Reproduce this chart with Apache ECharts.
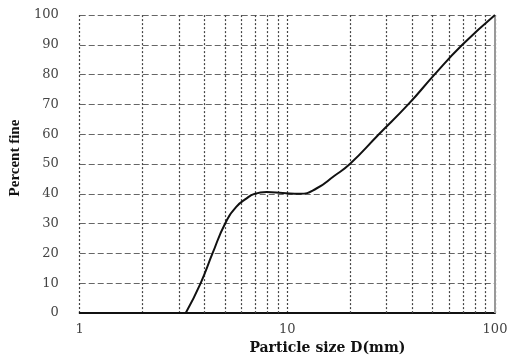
<!DOCTYPE html>
<html><head><meta charset="utf-8">
<script src="https://cdn.jsdelivr.net/npm/echarts@6/dist/echarts.min.js"></script>
<style>html,body{margin:0;padding:0;background:#fff}#c{width:513px;height:360px}</style>
</head><body><div id="c"></div>
<script>
// Flat part of the grading curve (no material finer than ~3.24 mm)
const flatSizes   = [1, 3.24];
const flatPercent = [0, 0];
// Rising part of the grading curve: particle size (mm) and percent fine
const sizes   = [3.24, 3.82, 4.36, 5.01, 5.69, 6.34, 6.94, 7.95, 9.5, 11.5, 13.8, 16.8, 20, 27.6, 38.2, 51.1, 69.6, 100];
const percent = [0,    10,   20,   30,   35.7, 38.4, 40,   40.6, 40.3, 40.0, 41.8, 46.0, 50, 60,   70,   80,   90,   100];
const minorGrid = [2, 3, 4, 5, 6, 7, 8, 9, 20, 30, 40, 50, 60, 70, 80, 90];
const xTicks = [1, 10, 100];
const yTicks = [0, 10, 20, 30, 40, 50, 60, 70, 80, 90, 100];

const chart = echarts.init(document.getElementById('c'));
const serif = '"DejaVu Serif", "Liberation Serif", serif';
chart.setOption({
  animation: false,
  grid: {left: 72, right: 18, top: 15, bottom: 38},
  xAxis: {
    type: 'log', logBase: 10, min: xTicks[0], max: xTicks[xTicks.length-1],
    name: 'Particle size D(mm)', nameLocation: 'middle', nameGap: 23,
    nameTextStyle: {fontFamily: '"DejaVu Serif", serif', fontWeight: 'bold', fontSize: 14, color: '#111', padding: [0,0,0,80]},
    axisLine: {show: true, lineStyle: {color: '#111', width: 2}},
    axisTick: {show: false},
    axisLabel: {fontFamily: serif, fontSize: 13, color: '#444', margin: 10},
    splitLine: {show: true, lineStyle: {type: [2,2], color: '#444', width: 1.2}}
  },
  yAxis: {
    type: 'value', min: yTicks[0], max: yTicks[yTicks.length-1], interval: 10,
    name: 'Percent fine', nameLocation: 'middle', nameGap: 43, nameRotate: 90,
    nameTextStyle: {fontFamily: '"Liberation Serif", serif', fontWeight: 'bold', fontSize: 15, color: '#111', padding: [0,0,0,12]},
    axisLine: {show: false}, axisTick: {show: false},
    axisLabel: {fontFamily: serif, fontSize: 13, color: '#444', margin: 21},
    splitLine: {show: true, lineStyle: {type: [6,3], color: '#666', width: 1}}
  },
  series: [{
    type: 'line',
    data: flatSizes.map((s, i) => [s, flatPercent[i]]),
    showSymbol: false,
    lineStyle: {color: '#111', width: 2},
    z: 5
  }, {
    type: 'line',
    data: sizes.map((s, i) => [s, percent[i]]),
    smooth: 0.5,
    showSymbol: false,
    lineStyle: {color: '#111', width: 2},
    z: 5,
    markLine: {
      silent: true, symbol: 'none', label: {show: false},
      data: minorGrid.map(v => ({xAxis: v, lineStyle: {type: [2,2], color: '#444', width: 1.2}}))
        .concat([{xAxis: 100, lineStyle: {type: 'solid', color: '#999', width: 2}}])
    }
  }]
});
</script></body></html>
